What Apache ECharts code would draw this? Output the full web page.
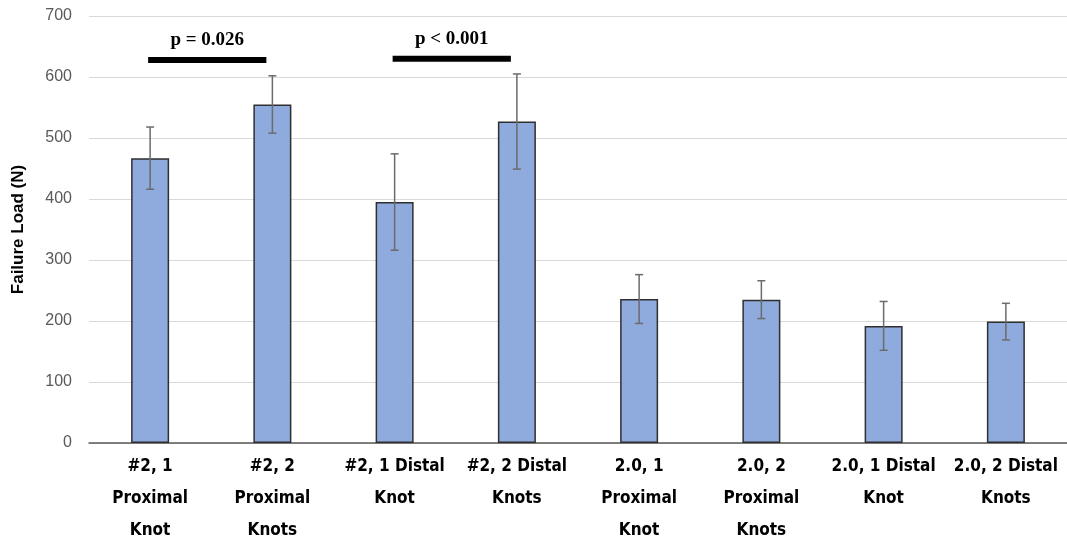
<!DOCTYPE html>
<html><head><meta charset="utf-8">
<script src="https://cdn.jsdelivr.net/npm/echarts@6/dist/echarts.min.js"></script>
<style>html,body{margin:0;padding:0;background:#fff}#c{width:1067px;height:547px}</style>
</head><body><div id="c"></div>
<script>
const categories = ['#2, 1\nProximal\nKnot','#2, 2\nProximal\nKnots','#2, 1 Distal\nKnot','#2, 2 Distal\nKnots','2.0, 1\nProximal\nKnot','2.0, 2\nProximal\nKnots','2.0, 1 Distal\nKnot','2.0, 2 Distal\nKnots'];
const means = [467, 555, 395, 527, 236, 235, 192, 199];
const sds = [51, 47, 79, 78, 40, 31, 40, 30];
const yTicks = [0, 100, 200, 300, 400, 500, 600, 700];
// significance: [from category, to category, label, line level]
const sigFrom = [0, 2];
const sigTo = [1, 3];
const sigLabels = ['p = 0.026', 'p < 0.001'];
const sigLevel = [628, 630];

const errData = means.map((m, i) => [i, m - sds[i], m + sds[i]]);
const sigData = sigFrom.map((f, i) => [f, sigTo[i], sigLevel[i], sigLabels[i]]);

const chart = echarts.init(document.getElementById('c'));
chart.setOption({
  animation: false,
  grid: {left: 89, right: 0, top: 16, bottom: 94},
  xAxis: {
    type: 'category', data: categories,
    axisTick: {show: false},
    axisLine: {lineStyle: {color: '#595959', width: 1.5}},
    axisLabel: {interval: 0, margin: 8, color: '#000', fontFamily: 'DejaVu Sans Condensed', fontWeight: 'bold', fontSize: 17, lineHeight: 32}
  },
  yAxis: {
    type: 'value', min: 0, max: 700, interval: 100,
    name: 'Failure Load (N)', nameLocation: 'middle', nameGap: 62, nameRotate: 90,
    nameTextStyle: {fontFamily: 'Liberation Sans', fontWeight: 'bold', fontSize: 17, color: '#000'},
    axisLine: {show: false}, axisTick: {show: false},
    axisLabel: {color: '#595959', fontFamily: 'Liberation Sans', fontSize: 16, margin: 17,
      formatter: v => yTicks.includes(v) ? String(v) : ''},
    splitLine: {lineStyle: {color: '#d9d9d9', width: 1}}
  },
  series: [
    {type: 'bar', data: means, barWidth: 38,
     itemStyle: {color: '#8faadc', borderColor: '#2f2f2f', borderWidth: 1.5}},
    {type: 'custom', data: errData, z: 5,
     renderItem: (params, api) => {
       const x = api.coord([api.value(0), 0])[0];
       const lo = api.coord([api.value(0), api.value(1)])[1];
       const hi = api.coord([api.value(0), api.value(2)])[1];
       const st = {stroke: '#6b6b6b', lineWidth: 1.5};
       return {type: 'group', children: [
         {type: 'line', shape: {x1: x, y1: lo, x2: x, y2: hi}, style: st},
         {type: 'line', shape: {x1: x - 4, y1: lo, x2: x + 4, y2: lo}, style: st},
         {type: 'line', shape: {x1: x - 4, y1: hi, x2: x + 4, y2: hi}, style: st}
       ]};
     }},
    {type: 'custom', data: sigData, z: 6,
     renderItem: (params, api) => {
       const a = api.coord([api.value(0), api.value(2)]);
       const b = api.coord([api.value(1), api.value(2)]);
       const x1 = a[0] - 2, x2 = b[0] - 6;
       return {type: 'group', children: [
         {type: 'line', shape: {x1: x1, y1: a[1], x2: x2, y2: a[1]}, style: {stroke: '#000', lineWidth: 6}},
         {type: 'text', x: (x1 + x2) / 2, y: a[1] - 20, style: {text: sigLabels[params.dataIndex], fill: '#000',
           font: 'bold 19px "Liberation Serif"', align: 'center', verticalAlign: 'middle'}}
       ]};
     }}
  ]
});
</script></body></html>
